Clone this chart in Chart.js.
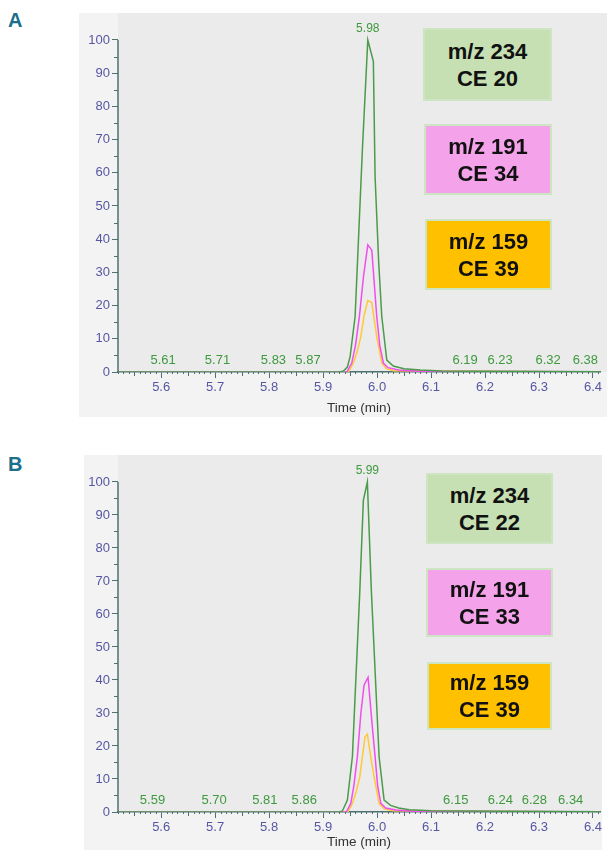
<!DOCTYPE html>
<html><head><meta charset="utf-8">
<script src="https://cdn.jsdelivr.net/npm/chart.js@4"></script>
<style>
body{margin:0;background:#fff;width:607px;height:850px;position:relative;overflow:hidden;font-family:"Liberation Sans",Arial,sans-serif;}
.panel{position:absolute;background:#f3f3f3;}
.tag{position:absolute;font-weight:bold;font-size:20px;line-height:20px;color:#1b6e8c;}
.box{position:absolute;box-sizing:border-box;border:2px solid #cde5c2;display:flex;flex-direction:column;justify-content:center;align-items:center;font-weight:bold;font-size:22px;line-height:27px;color:#111;}
</style></head><body>
<div class="tag" style="left:8px;top:10px">A</div>
<div class="tag" style="left:8px;top:454px">B</div>
<div class="panel" style="left:79px;top:13px;width:528px;height:404px"><canvas id="cA" width="528" height="404"></canvas></div>
<div class="panel" style="left:84px;top:455px;width:518px;height:395px"><canvas id="cB" width="518" height="395"></canvas></div>

<div class="box" style="left:423px;top:28px;width:129px;height:73px;background:#c6e0b4"><div>m/z 234</div><div>CE 20</div></div>
<div class="box" style="left:424px;top:124px;width:128px;height:71px;background:#f4a2ea"><div>m/z 191</div><div>CE 34</div></div>
<div class="box" style="left:425px;top:219px;width:127px;height:71px;background:#ffc000"><div>m/z 159</div><div>CE 39</div></div>

<div class="box" style="left:426px;top:473px;width:127px;height:71px;background:#c6e0b4"><div>m/z 234</div><div>CE 22</div></div>
<div class="box" style="left:426px;top:568px;width:127px;height:69px;background:#f4a2ea"><div>m/z 191</div><div>CE 33</div></div>
<div class="box" style="left:427px;top:662px;width:125px;height:68px;background:#ffc000"><div>m/z 159</div><div>CE 39</div></div>

<script>
// ---------- data ----------
const xTicks = [5.6, 5.7, 5.8, 5.9, 6.0, 6.1, 6.2, 6.3, 6.4];
const yTicks = [0, 10, 20, 30, 40, 50, 60, 70, 80, 90, 100];

// Panel A
const greenA_t = [5.52, 5.93, 5.9376, 5.945, 5.95, 5.9593, 5.9728, 5.9828, 5.9931, 5.9963, 6.003, 6.0087, 6.018, 6.03, 6.05, 6.08, 6.12, 6.2, 6.413];
const greenA_y = [0, 0, 0.3, 1.5, 4.6, 16.7, 67, 100, 93.6, 58.8, 33, 16.7, 3.6, 1.8, 1.0, 0.6, 0.3, 0.2, 0.1];
const magentaA_t = [5.52, 5.944, 5.9531, 5.96, 5.9672, 5.975, 5.9828, 5.9902, 5.9994, 6.005, 6.0117, 6.02, 6.04, 6.08, 6.413];
const magentaA_y = [0, 0, 2.7, 8, 16.7, 29, 38.3, 36.7, 16.7, 8, 2.7, 1.3, 0.6, 0.2, 0.1];
const yellowA_t = [5.52, 5.947, 5.9561, 5.963, 5.9698, 5.976, 5.9828, 5.9902, 5.9994, 6.0087, 6.017, 6.03, 6.413];
const yellowA_y = [0, 0, 2.7, 6, 10.6, 17, 21.5, 20.9, 10.6, 2.7, 1.0, 0.4, 0];
const annoA_text = ['5.61', '5.71', '5.83', '5.87', '5.98', '6.19', '6.23', '6.32', '6.38'];
const annoA_rt = [5.6037, 5.7043, 5.808, 5.872, 5.9828, 6.163, 6.228, 6.317, 6.386];
const annoA_lvl = [0, 0, 0, 0, 100, 0, 0, 0, 0];

// Panel B
const greenB_t = [5.52, 5.93, 5.9357, 5.945, 5.9543, 5.968, 5.9746, 5.982, 5.9894, 6.0037, 6.013, 6.025, 6.04, 6.06, 6.1, 6.15, 6.413];
const greenB_y = [0, 0, 0.3, 3.6, 16.8, 67, 94.5, 100, 67, 16.8, 3.6, 2.0, 1.2, 0.7, 0.4, 0.3, 0.1];
const magentaB_t = [5.52, 5.943, 5.9513, 5.957, 5.9635, 5.97, 5.9759, 5.9833, 5.99, 5.9963, 6.001, 6.0069, 6.016, 6.035, 6.07, 6.413];
const magentaB_y = [0, 0, 2.6, 8, 16.8, 30, 38.5, 40.8, 28, 16.8, 8, 2.6, 1.2, 0.6, 0.2, 0.1];
const yellowB_t = [5.52, 5.946, 5.9543, 5.961, 5.968, 5.973, 5.9778, 5.982, 5.988, 5.9944, 6.0037, 6.013, 6.03, 6.413];
const yellowB_y = [0, 0, 2.6, 6, 10.7, 17, 22.8, 23.6, 17, 10.7, 2.6, 1.0, 0.4, 0];
const annoB_text = ['5.59', '5.70', '5.81', '5.86', '5.99', '6.15', '6.24', '6.28', '6.34'];
const annoB_rt = [5.5839, 5.698, 5.792, 5.865, 5.982, 6.1457, 6.2283, 6.2913, 6.3587];
const annoB_lvl = [0, 0, 0, 0, 100, 0, 0, 0, 0];

// ---------- styles ----------
const AXIS = '#4e7171';
const TICKC = '#5656a3';
const GREEN = '#4b9b4b', MAGENTA = '#f04eee', YELLOW = '#ffc83a';
const ANNO = '#3e993e';
const FONT = '"Liberation Sans", Arial, sans-serif';

function pts(t, y) { return t.map((v, i) => ({ x: v, y: y[i] })); }

const extras = {
  id: 'extras',
  beforeDraw(chart) {
    const { ctx, chartArea: a } = chart;
    ctx.save();
    ctx.fillStyle = '#ebebeb';
    ctx.fillRect(a.left, 0, chart.width - a.left, a.bottom);
    ctx.restore();
  },
  afterDraw(chart, args, opts) {
    const { ctx, chartArea: a } = chart;
    const xs = chart.scales.x, ys = chart.scales.y;
    ctx.save();
    ctx.strokeStyle = AXIS;
    ctx.lineWidth = 1.5;
    ctx.beginPath();
    ctx.moveTo(a.left, ys.getPixelForValue(0));
    ctx.lineTo(a.left, ys.getPixelForValue(100));
    ctx.stroke();
    ctx.lineWidth = 1;
    ctx.beginPath();
    for (let i = 552; i <= 641; i++) {
      if (i % 10 === 0) continue;
      const px = Math.round(xs.getPixelForValue(i / 100)) + 0.5;
      if (px < a.left || px > a.right) continue;
      const len = (i % 5 === 0) ? 4 : 2;
      ctx.moveTo(px, a.bottom);
      ctx.lineTo(px, a.bottom + len);
    }
    for (let v = 5; v < 100; v += 10) {
      const py = Math.round(ys.getPixelForValue(v)) + 0.5;
      ctx.moveTo(a.left, py);
      ctx.lineTo(a.left - 4, py);
    }
    ctx.stroke();
    ctx.fillStyle = ANNO;
    ctx.textAlign = 'center';
    ctx.textBaseline = 'bottom';
    opts.text.forEach((s, i) => {
      const px = xs.getPixelForValue(opts.rt[i]);
      const lvl = opts.lvl[i];
      ctx.font = (lvl > 0 ? '12px ' : '13px ') + FONT;
      const py = ys.getPixelForValue(lvl) - (lvl > 0 ? 5 : 5);
      ctx.fillText(s, px, py);
    });
    ctx.restore();
  }
};

function makeChart(id, g, m, yl, anno, yW, xH, padR, titleBottom, ymax) {
  const ds = (data, color) => ({ data, borderColor: color, borderWidth: 1.5, pointRadius: 0, fill: false, tension: 0 });
  return new Chart(document.getElementById(id), {
    type: 'line',
    data: { datasets: [ds(g, GREEN), ds(m, MAGENTA), ds(yl, YELLOW)] },
    options: {
      responsive: false, animation: false, devicePixelRatio: 1,
      layout: { padding: { left: 0, right: padR, top: 0, bottom: 0 } },
      plugins: { legend: { display: false }, tooltip: { enabled: false }, extras: anno },
      scales: {
        x: {
          type: 'linear', min: 5.52, max: 6.413,
          afterBuildTicks: s => { s.ticks = xTicks.map(v => ({ value: v })); },
          afterFit: s => { s.height = xH; s.paddingLeft = 0; s.paddingRight = 0; },
          grid: { drawOnChartArea: false, drawTicks: true, tickLength: 6, tickColor: AXIS, tickWidth: 1 },
          border: { display: true, color: AXIS, width: 1.5 },
          ticks: { autoSkip: false, maxRotation: 0, padding: 2, color: TICKC, font: { family: FONT, size: 13 }, callback: v => Number(v).toFixed(1) },
          title: { display: true, text: 'Time (min)', color: '#333', font: { family: FONT, size: 13.5 }, padding: { top: 0, bottom: titleBottom } }
        },
        y: {
          type: 'linear', min: 0, max: ymax,
          afterBuildTicks: s => { s.ticks = yTicks.map(v => ({ value: v })); },
          afterFit: s => { s.width = yW; s.paddingTop = 0; s.paddingBottom = 0; },
          grid: { drawOnChartArea: false, drawTicks: true, tickLength: 6, tickColor: AXIS, tickWidth: 1 },
          border: { display: false },
          ticks: { padding: 2, color: TICKC, font: { family: FONT, size: 13 } }
        }
      }
    },
    plugins: [extras]
  });
}

makeChart('cA', pts(greenA_t, greenA_y), pts(magentaA_t, magentaA_y), pts(yellowA_t, yellowA_y),
  { text: annoA_text, rt: annoA_rt, lvl: annoA_lvl }, 39, 45, 7, 1, 108.13);
makeChart('cB', pts(greenB_t, greenB_y), pts(magentaB_t, magentaB_y), pts(yellowB_t, yellowB_y),
  { text: annoB_text, rt: annoB_rt, lvl: annoB_lvl }, 34, 38, 2, 0, 108.18);
</script>
</body></html>
